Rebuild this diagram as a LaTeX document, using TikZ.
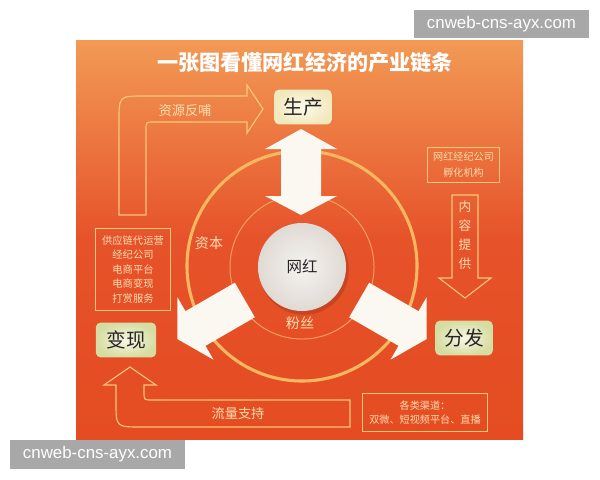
\documentclass[tikz,border=0pt]{standalone}
\usepackage{fontspec}
\setmainfont{Noto Sans CJK SC}
\newfontfamily\wmfont{Liberation Sans}
\definecolor{bgtop}{HTML}{F29A55}
\definecolor{bgmid}{HTML}{E6522A}
\definecolor{bgbot}{HTML}{E54C21}
\definecolor{lncol}{HTML}{F9C67A}
\definecolor{txcol}{HTML}{FDDDAE}
\definecolor{ringout}{HTML}{F8B862}
\definecolor{ringin}{HTML}{F4A05A}
\definecolor{wmgray}{HTML}{A8A8A8}
\definecolor{arrowfill}{HTML}{FBF8F1}
\definecolor{prodin}{HTML}{FDFBEA}
\definecolor{prodout}{HTML}{F1E9BE}
\definecolor{keyin}{HTML}{F8F7E4}
\definecolor{keyout}{HTML}{D6DDA2}
\definecolor{hubin}{HTML}{F5F2EF}
\definecolor{hubout}{HTML}{E0DAD4}
\tikzset{
  outl/.style={draw=lncol, line width=0.8pt, line join=miter},
  lbl/.style={text=txcol, inner sep=0pt},
  keybox/.style={rounded corners=3.5pt, minimum height=24.8pt, inner sep=0pt,
     text=black!85, font=\fontsize{14}{14}\selectfont},
  infobox/.style={draw=lncol, line width=0.8pt, text=txcol, align=center, inner sep=0pt},
  bigarrow/.style={fill=arrowfill},
  wmbox/.style={fill=wmgray, text=white, inner sep=0pt, minimum height=20pt,
     font=\wmfont\fontsize{12}{12}\selectfont}
}
\begin{document}
\begin{tikzpicture}[x=0.025cm, y=-0.025cm]
\useasboundingbox (0,0) rectangle (600,480);
\fill[white] (0,0) rectangle (600,480);
% background panel
\shade[top color=bgtop, bottom color=bgbot, middle color=bgmid] (76,40) rectangle (523,439);
% title
\node[text=white, font=\bfseries\fontsize{15}{15}\selectfont, inner sep=0pt] (title) at (305,63) {一张图看懂网红经济的产业链条};
% rings
\draw[ringout, line width=2.2pt] (302,266) circle[radius=2.875cm];
\draw[ringin, line width=0.7pt] (302,267) circle[radius=1.8cm];
% big white arrows
\fill[bigarrow] (281,149) -- (265,149) -- (301,129) -- (337,149) -- (321,149) -- (321,196)
   -- (337,196) -- (301,215) -- (265,196) -- (281,196) -- cycle;
\begin{scope}[shift={(302,267)}, rotate=210]
  \fill[bigarrow] (66,-20) -- (123,-20) -- (123,-36) -- (144,0) -- (123,36) -- (123,20) -- (66,20) -- cycle;
\end{scope}
\begin{scope}[shift={(302,267)}, rotate=-30]
  \fill[bigarrow] (66,-20) -- (123,-20) -- (123,-36) -- (144,0) -- (123,36) -- (123,20) -- (66,20) -- cycle;
\end{scope}
% hub
\fill[black, opacity=0.13] (304,270) circle[radius=1.12cm];
\node[circle, minimum size=2.2cm, inner sep=0pt, inner color=hubin, outer color=hubout,
      font=\fontsize{11}{11}\selectfont, text=black!85] (hub) at (302,267) {网红};
\node[lbl, font=\fontsize{10}{10}\selectfont] (capital) at (209,243) {资本};
\node[lbl, font=\fontsize{10}{10}\selectfont] (fans) at (300,323) {粉丝};
% key boxes
\node[keybox, minimum width=41pt, inner color=prodin, outer color=prodout] (prod) at (303,107) {生产};
\node[keybox, minimum width=43pt, inner color=keyin, outer color=keyout] (cash) at (126,340) {变现};
\node[keybox, minimum width=41pt, inner color=keyin, outer color=keyout] (dist) at (464,338) {分发};
% info boxes
\node[infobox, minimum width=53.9pt, minimum height=58.8pt, font=\fontsize{7.3}{10.3}\selectfont] (supply) at (133,269.5)
  {供应链代运营\\经纪公司\\电商平台\\电商变现\\打赏服务};
\node[infobox, minimum width=51.8pt, minimum height=25.5pt, font=\fontsize{7.2}{11.3}\selectfont] (agency) at (463.5,165)
  {网红经纪公司\\孵化机构};
\node[infobox, minimum width=89.3pt, minimum height=27.6pt, font=\fontsize{7.2}{10}\selectfont] (channel) at (425,412.5)
  {各类渠道：\\双微、短视频平台、直播};
% outline arrows
\draw[outl] (119,215) -- (119,121) .. controls (119,96) .. (144,96) -- (247,96) -- (247,85) -- (263,109)
   -- (247,133) -- (247,122) -- (154,122) .. controls (146,122) .. (146,130) -- (146,215) -- cycle;
\node[lbl, font=\fontsize{9.4}{9.4}\selectfont] (feed) at (185,110) {资源反哺};
\draw[outl] (452,195) -- (478,195) -- (478,278) -- (491,278) -- (465,298) -- (439,278) -- (452,278) -- cycle;
\node[lbl, align=center, font=\fontsize{9}{13.5}\selectfont] (content) at (465,235) {内\\容\\提\\供};
\draw[outl] (130,367) -- (156,385) -- (144,385) -- (144,392) .. controls (144,400) .. (152,400) -- (350,400)
   -- (350,427) -- (141,427) .. controls (116,427) .. (116,402) -- (116,385) -- (104,385) -- cycle;
\node[lbl, font=\fontsize{9.4}{9.4}\selectfont] (traffic) at (238,413) {流量支持};
% watermarks
\node[wmbox, minimum width=124pt] (wm1) at (501.5,24) {cnweb-cns-ayx.com};
\node[wmbox, minimum width=124pt] (wm2) at (97.5,454.5) {cnweb-cns-ayx.com};
\end{tikzpicture}
\end{document}
